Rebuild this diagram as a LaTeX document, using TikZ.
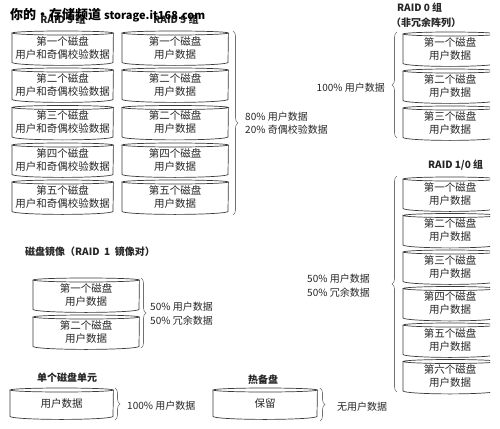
\documentclass[tikz,border=0pt]{standalone}
\usepackage{fontspec}
\setmainfont{Noto Sans CJK SC}
\usetikzlibrary{decorations.pathreplacing}
\definecolor{ink}{HTML}{262626}
\definecolor{edge}{HTML}{3A3A3A}
\definecolor{brc}{HTML}{707070}
\tikzset{
 diskbox/.style={inner sep=0pt, minimum height=29pt, align=center, text=ink, font=\fontsize{10.5}{13}\selectfont},
 diskline/.style={draw=edge, line width=0.7pt},
 bracket/.style={draw=brc, line width=0.6pt, decorate, decoration={brace, amplitude=5pt}},
 lbl/.style={inner sep=0pt, anchor=west, text=ink, font=\fontsize{10}{12}\selectfont},
 ttl/.style={inner sep=0pt, text=ink, font=\bfseries\fontsize{10}{12}\selectfont},
 wmark/.style={inner sep=0pt, anchor=west, text=black, font=\bfseries\fontsize{13}{14}\selectfont},
}
% name, left x, visual top y, width, text
\newcommand\mydisk[6][]{%
 \node[diskbox, minimum width=#5pt, anchor=north west, #1] (#2) at (#3,-#4-2) {#6};
 \draw[diskline] (#2.north) ellipse [x radius=#5pt/2, y radius=2pt];
 \draw[diskline] (#2.north west) -- (#2.south west)
   arc [start angle=180, end angle=360, x radius=#5pt/2, y radius=3pt] -- (#2.north east);
}
\begin{document}
\begin{tikzpicture}[x=1pt,y=1pt]
\useasboundingbox[fill=white] (0,0) rectangle (500,-428);

% ---------- RAID 5 ----------
\node[ttl] (t5a) at (63,-20) {RAID 5 组};
\node[ttl] (t5b) at (176,-20) {RAID 5 组};
\mydisk{a1}{12}{31}{101}{第一个磁盘\\用户和奇偶校验数据}
\mydisk{a2}{12}{68}{101}{第二个磁盘\\用户和奇偶校验数据}
\mydisk{a3}{12}{105.5}{101}{第三个磁盘\\用户和奇偶校验数据}
\mydisk{a4}{12}{143}{101}{第四个磁盘\\用户和奇偶校验数据}
\mydisk{a5}{12}{180}{101}{第五个磁盘\\用户和奇偶校验数据}
\mydisk{b1}{122}{31}{106}{第一个磁盘\\用户数据}
\mydisk{b2}{122}{68}{106}{第二个磁盘\\用户数据}
\mydisk{b3}{122}{105.5}{106}{第二个磁盘\\用户数据}
\mydisk{b4}{122}{143}{106}{第四个磁盘\\用户数据}
\mydisk{b5}{122}{180}{106}{第五个磁盘\\用户数据}
\coordinate (r5t) at (233,-31);
\coordinate (r5b) at (233,-215);
\draw[bracket] (r5t) -- (r5b);
\node[lbl] (l5a) at (245,-117) {80\% 用户数据};
\node[lbl] (l5b) at (245,-130) {20\% 奇偶校验数据};

% ---------- RAID 0 ----------
\node[ttl, anchor=west] (t0a) at (397,-8) {RAID 0 组};
\node[ttl, anchor=west] (t0b) at (391,-23) {（非冗余阵列）};
\begin{scope}
\clip (395,-20) rectangle (490,-400);
\mydisk{c1}{403}{32}{94}{第一个磁盘\\用户数据}
\mydisk{c2}{403}{69}{94}{第二个磁盘\\用户数据}
\mydisk{c3}{403}{106}{94}{第三个磁盘\\用户数据}
% ---------- RAID 1/0 disks ----------
\mydisk{d1}{403}{177}{94}{第一个磁盘\\用户数据}
\mydisk{d2}{403}{213.5}{94}{第二个磁盘\\用户数据}
\mydisk{d3}{403}{250}{94}{第三个磁盘\\用户数据}
\mydisk{d4}{403}{286.5}{94}{第四个磁盘\\用户数据}
\mydisk{d5}{403}{323}{94}{第五个磁盘\\用户数据}
\mydisk{d6}{403}{359.5}{94}{第六个磁盘\\用户数据}
\end{scope}
\coordinate (r0t) at (397,-32);
\coordinate (r0b) at (397,-138);
\draw[bracket] (r0b) -- (r0t);
\node[lbl, anchor=east] (l0) at (385,-88) {100\% 用户数据};

% ---------- RAID 1/0 ----------
\node[ttl, anchor=west] (t10) at (428,-165) {RAID 1/0 组};
\coordinate (r10t) at (397,-176);
\coordinate (r10b) at (397,-392);
\draw[bracket] (r10b) -- (r10t);
\node[lbl] (l10a) at (307,-279) {50\% 用户数据};
\node[lbl] (l10b) at (307,-293) {50\% 冗余数据};

% ---------- RAID 1 ----------
\node[ttl, anchor=west] (t1) at (25,-252) {磁盘镜像（RAID\ \ 1\ \ 镜像对）};
\mydisk{e1}{33}{278}{106}{第一个磁盘\\用户数据}
\mydisk{e2}{33}{315}{106}{第二个磁盘\\用户数据}
\coordinate (r1t) at (141,-278);
\coordinate (r1b) at (141,-348);
\draw[bracket] (r1t) -- (r1b);
\node[lbl] (l1a) at (150,-307) {50\% 用户数据};
\node[lbl] (l1b) at (150,-321) {50\% 冗余数据};

% ---------- single disk ----------
\node[ttl] (ts) at (67,-378) {单个磁盘单元};
\mydisk[minimum height=26pt]{s1}{10}{388}{103}{用户数据}
\coordinate (rst) at (115,-388);
\coordinate (rsb) at (115,-420);
\draw[bracket] (rst) -- (rsb);
\node[lbl] (ls) at (127,-406) {100\% 用户数据};

% ---------- hot spare ----------
\node[ttl] (th) at (263,-380) {热备盘};
\mydisk[minimum height=26pt]{h1}{213}{388}{104}{保留}
\coordinate (rht) at (320,-388);
\coordinate (rhb) at (320,-421);
\draw[bracket] (rht) -- (rhb);
\node[lbl] (lh) at (337,-407) {无用户数据};

% ---------- watermark ----------
\node[wmark] (wm) at (10,-15) {你的·存储频道\ {\fontsize{11}{12}\selectfont storage.it168.com}};
\end{tikzpicture}
\end{document}
